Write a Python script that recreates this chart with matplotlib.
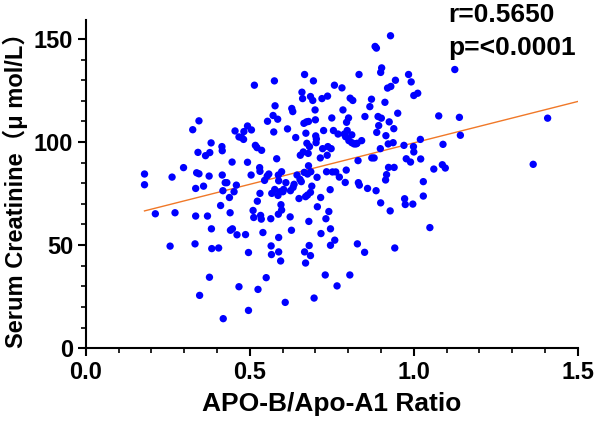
import numpy as np
import matplotlib
matplotlib.use('Agg')
import matplotlib.pyplot as plt
from matplotlib.ticker import MultipleLocator, FormatStrFormatter

plt.rcParams['font.family'] = ['Liberation Sans', 'Noto Sans CJK SC', 'DejaVu Sans']
plt.rcParams['font.weight'] = 'bold'

# APO-B/Apo-A1 ratio vs serum creatinine
ratio = [0.179, 0.179, 0.212, 0.257, 0.263, 0.272, 0.298, 0.326, 0.333, 0.335,
         0.335, 0.338, 0.342, 0.345, 0.345, 0.347, 0.359, 0.365, 0.371, 0.376,
         0.377, 0.378, 0.382, 0.383, 0.384, 0.405, 0.411, 0.415, 0.416, 0.416,
         0.418, 0.419, 0.425, 0.430, 0.438, 0.440, 0.441, 0.446, 0.447, 0.452,
         0.455, 0.459, 0.461, 0.467, 0.467, 0.475, 0.481, 0.482, 0.487, 0.493,
         0.493, 0.496, 0.496, 0.504, 0.505, 0.510, 0.512, 0.514, 0.517, 0.522,
         0.523, 0.525, 0.530, 0.531, 0.531, 0.533, 0.535, 0.536, 0.540, 0.545,
         0.550, 0.553, 0.554, 0.558, 0.564, 0.565, 0.566, 0.567, 0.571, 0.573,
         0.575, 0.576, 0.577, 0.582, 0.585, 0.586, 0.587, 0.587, 0.588, 0.588,
         0.588, 0.592, 0.594, 0.595, 0.597, 0.597, 0.601, 0.603, 0.608, 0.610,
         0.615, 0.623, 0.624, 0.627, 0.628, 0.631, 0.632, 0.635, 0.640, 0.644,
         0.650, 0.653, 0.654, 0.657, 0.659, 0.661, 0.663, 0.665, 0.666, 0.667,
         0.667, 0.670, 0.670, 0.671, 0.673, 0.674, 0.676, 0.676, 0.678, 0.679,
         0.679, 0.680, 0.681, 0.682, 0.685, 0.685, 0.685, 0.686, 0.689, 0.692,
         0.694, 0.696, 0.699, 0.700, 0.701, 0.702, 0.703, 0.705, 0.706, 0.715,
         0.716, 0.717, 0.720, 0.722, 0.725, 0.730, 0.732, 0.734, 0.736, 0.737,
         0.738, 0.741, 0.745, 0.746, 0.746, 0.748, 0.750, 0.752, 0.755, 0.758,
         0.759, 0.762, 0.766, 0.769, 0.773, 0.781, 0.784, 0.788, 0.791, 0.792,
         0.794, 0.795, 0.797, 0.801, 0.802, 0.805, 0.806, 0.811, 0.811, 0.814,
         0.818, 0.824, 0.827, 0.828, 0.830, 0.831, 0.833, 0.834, 0.841, 0.850,
         0.851, 0.859, 0.866, 0.871, 0.872, 0.879, 0.882, 0.886, 0.885, 0.887,
         0.891, 0.893, 0.898, 0.899, 0.899, 0.901, 0.902, 0.912, 0.914, 0.915,
         0.917, 0.920, 0.922, 0.923, 0.925, 0.928, 0.929, 0.930, 0.937, 0.939,
         0.940, 0.942, 0.944, 0.951, 0.970, 0.972, 0.974, 0.977, 0.984, 0.990,
         0.992, 0.997, 0.999, 1.000, 1.000, 1.012, 1.020, 1.021, 1.029, 1.029,
         1.049, 1.061, 1.076, 1.087, 1.089, 1.096, 1.125, 1.139, 1.142, 1.364,
         1.408]
creatinine = [84.5, 79.3, 65.2, 49.5, 83.0, 65.7, 87.6, 106.0, 50.6, 64.1,
              77.5, 85.1, 95.0, 110.3, 84.6, 25.6, 78.6, 93.4, 64.1, 83.5,
              34.4, 94.9, 99.6, 57.9, 48.3, 48.6, 69.2, 97.8, 95.8, 84.0,
              76.4, 14.3, 80.3, 80.3, 73.1, 65.7, 57.2, 90.3, 57.9, 75.9,
              105.4, 79.1, 55.0, 29.8, 102.5, 102.2, 101.3, 105.1, 55.1, 107.8,
              90.2, 46.4, 18.3, 84.0, 105.9, 66.8, 63.4, 127.6, 98.4, 97.3,
              71.3, 28.5, 87.6, 75.1, 85.8, 64.4, 62.6, 96.0, 56.1, 81.4,
              34.2, 83.5, 110.1, 84.5, 62.8, 49.6, 45.4, 75.1, 112.9, 104.9,
              129.7, 77.0, 117.6, 91.9, 111.1, 74.1, 84.0, 65.0, 53.7, 46.7,
              81.2, 75.9, 42.3, 69.6, 85.6, 67.0, 75.9, 77.0, 22.2, 80.3,
              106.4, 63.7, 76.4, 57.2, 116.3, 114.8, 78.0, 79.5, 102.2, 84.0,
              72.6, 81.9, 93.6, 80.8, 124.2, 121.1, 95.2, 109.1, 85.3, 46.7,
              132.8, 41.3, 73.5, 104.3, 109.8, 99.4, 74.3, 84.5, 94.5, 88.5,
              110.0, 61.5, 49.8, 97.8, 75.6, 44.9, 122.1, 85.6, 78.6, 120.2,
              129.7, 24.3, 115.6, 110.8, 103.0, 99.7, 101.5, 82.9, 68.6, 92.3,
              73.1, 55.6, 121.1, 96.8, 105.6, 35.5, 62.8, 85.6, 93.6, 122.3,
              97.8, 66.3, 76.9, 57.9, 49.9, 96.8, 111.7, 85.5, 105.6, 127.6,
              52.4, 85.5, 30.2, 103.9, 83.0, 126.3, 115.6, 103.9, 80.4, 102.6,
              86.4, 109.6, 105.6, 111.7, 100.7, 35.5, 121.3, 99.7, 103.5, 120.2,
              99.1, 99.1, 99.4, 50.6, 91.0, 80.3, 132.8, 79.1, 100.7, 46.5,
              112.4, 77.5, 117.2, 120.8, 92.3, 92.3, 146.4, 145.6, 76.4, 104.7,
              112.4, 108.0, 96.8, 70.5, 133.8, 111.6, 136.0, 119.3, 81.6, 103.1,
              84.2, 126.2, 99.1, 87.7, 109.8, 66.6, 151.6, 127.0, 99.7, 106.5,
              87.7, 48.6, 130.0, 114.0, 98.4, 72.5, 69.7, 91.9, 132.8, 90.3,
              129.2, 69.9, 97.8, 95.2, 122.6, 123.7, 101.3, 91.8, 73.8, 80.8,
              58.5, 86.9, 112.7, 89.0, 98.9, 87.4, 135.2, 112.0, 103.3, 89.2,
              111.6]

# regression line as drawn in the figure
slope, intercept = 40.2, 59.4

fig = plt.figure(figsize=(6, 4.23), dpi=100)
ax = fig.add_axes([0.143, 0.177, 0.82, 0.776])

ax.scatter(ratio, creatinine, s=28, color='#0000ff', edgecolors='none', zorder=3)
xl = np.array([min(ratio), 1.5])
ax.plot(xl, slope * xl + intercept, color='#f07828', lw=1.0, zorder=2)

ax.set_xlim(0, 1.5)
ax.set_ylim(0, 159.3)
ax.xaxis.set_major_locator(MultipleLocator(0.5))
ax.xaxis.set_minor_locator(MultipleLocator(0.1))
ax.yaxis.set_major_locator(MultipleLocator(50))
ax.yaxis.set_minor_locator(MultipleLocator(10))
ax.xaxis.set_major_formatter(FormatStrFormatter('%.1f'))

for s in ['top', 'right']:
    ax.spines[s].set_visible(False)
for s in ['left', 'bottom']:
    ax.spines[s].set_linewidth(1.5)
ax.tick_params(which='major', length=6, width=1.5, labelsize=17, pad=3)
ax.tick_params(which='minor', length=3.5, width=1.2)
for lab in ax.get_xticklabels() + ax.get_yticklabels():
    lab.set_fontweight('bold')

ax.set_xlabel('APO-B/Apo-A1 Ratio', fontsize=19, fontweight='bold', labelpad=6)
ax.set_ylabel('Serum Creatinine（μ mol/L）', fontsize=17, fontweight='bold', labelpad=4)

fig.text(0.747, 0.948, 'r=0.5650', fontsize=19, fontweight='bold', ha='left', va='baseline')
fig.text(0.747, 0.870, 'p=<0.0001', fontsize=19, fontweight='bold', ha='left', va='baseline')

fig.savefig('out.png', dpi=100)
